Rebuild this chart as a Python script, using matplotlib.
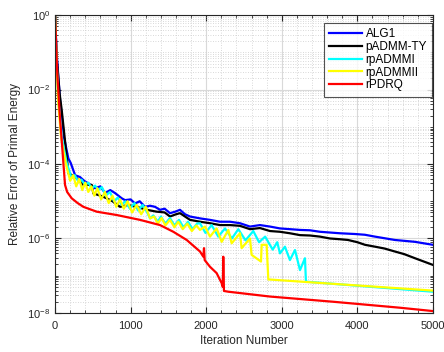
import matplotlib
matplotlib.use("Agg")
import matplotlib.pyplot as plt
import numpy as np
from matplotlib.ticker import FixedLocator, NullFormatter, MultipleLocator

plt.rcParams['font.family'] = ['Liberation Sans', 'DejaVu Sans']
plt.rcParams['mathtext.fontset'] = 'custom'
plt.rcParams['mathtext.rm'] = 'Liberation Sans'
plt.rcParams['mathtext.it'] = 'Liberation Sans:italic'
plt.rcParams['mathtext.bf'] = 'Liberation Sans:bold'

# iterations and log10 of relative error
alg1_it = [0, 20, 66, 120, 176, 207, 265, 330, 397, 441, 529, 600, 661, 730, 794, 882, 926, 1000, 1058, 1120, 1190,
           1257, 1323, 1389, 1450, 1521, 1590, 1653, 1720, 1786, 1918, 2050, 2183, 2315, 2447, 2579, 2712, 2844,
           2976, 3108, 3241, 3373, 3505, 3638, 3770, 3968, 4100, 4233, 4497, 4762, 5000]
alg1_lg = [0, -1.0, -2.28, -3.3, -3.85, -3.97, -4.3, -4.35, -4.47, -4.52, -4.65, -4.6, -4.78, -4.7, -4.78, -4.92, -4.97, -4.95, -5.06, -5.0, -5.15,
           -5.12, -5.15, -5.23, -5.2, -5.32, -5.28, -5.23, -5.35, -5.41, -5.46, -5.5, -5.55, -5.55, -5.59, -5.68, -5.64, -5.68,
           -5.73, -5.75, -5.77, -5.78, -5.82, -5.84, -5.86, -5.88, -5.9, -5.95, -6.04, -6.09, -6.17]

ty_it = [0, 20, 60, 88, 163, 176, 265, 331, 375, 485, 507, 600, 683, 760, 860, 960, 1080, 1213, 1345, 1450, 1521,
         1600, 1653, 1786, 1918, 2050, 2183, 2315, 2447, 2579, 2712, 2844, 2976, 3108, 3241, 3373, 3505, 3638, 3770,
         3876, 4000, 4101, 4233, 4360, 4497, 4620, 4762, 5000]
ty_lg = [0, -1.1, -2.1, -2.55, -3.97, -4.25, -4.34, -4.47, -4.56, -4.56, -4.79, -4.85, -4.92, -5.0, -5.15, -5.1, -5.15, -5.23, -5.28, -5.3, -5.41,
         -5.35, -5.32, -5.5, -5.55, -5.59, -5.64, -5.64, -5.66, -5.75, -5.72, -5.8, -5.82, -5.86, -5.91, -5.92, -5.95, -6.0, -6.02,
         -6.04, -6.1, -6.17, -6.22, -6.27, -6.35, -6.42, -6.53, -6.71]

cy_it = [0, 20, 44, 90, 154, 220, 260, 309, 350, 397, 440, 485, 530, 573, 620, 670, 727, 780, 830, 880, 930, 990,
         1050, 1100, 1160, 1220, 1257, 1300, 1360, 1400, 1460, 1520, 1580, 1640, 1700, 1760, 1820, 1880, 1918, 1990,
         2072, 2160, 2249, 2340, 2425, 2520, 2623, 2700, 2780, 2880, 2940, 2976, 3042, 3108, 3175, 3241, 3307, 3320, 5000]
cy_lg = [0, -1.2, -2.28, -3.3, -3.97, -4.38, -4.3, -4.47, -4.42, -4.56, -4.5, -4.65, -4.58, -4.7, -4.62, -4.85, -4.75, -5.0, -4.9, -5.1, -5.0, -5.2,
         -5.05, -5.25, -5.1, -5.3, -5.46, -5.38, -5.55, -5.41, -5.6, -5.45, -5.65, -5.5, -5.7, -5.55, -5.75, -5.6, -5.59, -5.85,
         -5.64, -5.95, -5.73, -6.0, -5.75, -6.05, -5.8, -6.1, -5.95, -6.3, -6.1, -6.4, -6.22, -6.58, -6.31, -6.85, -6.53, -7.16, -7.43]

ye_it = [0, 20, 40, 80, 140, 200, 240, 280, 320, 360, 400, 440, 480, 520, 560, 610, 660, 710, 760, 810, 860, 910,
         960, 1020, 1080, 1140, 1200, 1257, 1310, 1360, 1410, 1460, 1520, 1580, 1630, 1690, 1750, 1810, 1870, 1918, 1984,
         2050, 2138, 2205, 2293, 2337, 2447, 2469, 2579, 2601, 2725, 2734, 2800, 2822, 5000]
ye_lg = [0, -1.3, -2.3, -3.3, -3.97, -4.45, -4.3, -4.6, -4.4, -4.7, -4.5, -4.75, -4.6, -4.85, -4.65, -4.95, -4.75, -5.05, -4.85, -5.15, -4.95, -5.2,
         -5.0, -5.3, -5.1, -5.35, -5.15, -5.46, -5.41, -5.6, -5.45, -5.65, -5.5, -5.7, -5.55, -5.75, -5.6, -5.8, -5.65, -5.77, -5.68,
         -5.95, -5.73, -6.09, -5.77, -6.13, -5.86, -6.26, -6.0, -6.44, -6.62, -6.17, -6.17, -7.1, -7.40]

rd_it = [0, 15, 30, 60, 110, 132, 160, 220, 300, 375, 551, 816, 1124, 1389, 1565, 1742, 1918, 1962, 1971, 1980,
         2050, 2138, 2205, 2220, 2226, 2235, 2293, 2844, 3682, 4563, 5000]
rd_lg = [0, -0.8, -1.6, -2.6, -3.97, -4.56, -4.75, -4.92, -5.05, -5.15, -5.28, -5.37, -5.5, -5.64, -5.82, -6.04, -6.35, -6.49, -6.26, -6.58,
         -6.76, -6.93, -7.2, -7.3, -6.49, -7.41, -7.43, -7.56, -7.7, -7.86, -7.95]

series = [
    ("ALG1", alg1_it, alg1_lg, (0, 0, 1)),
    ("pADMM-TY", ty_it, ty_lg, (0, 0, 0)),
    ("rpADMMI", cy_it, cy_lg, (0, 1, 1)),
    ("rpADMMII", ye_it, ye_lg, (1, 1, 0)),
    ("rPDRQ", rd_it, rd_lg, (1, 0, 0)),
]

fig = plt.figure(figsize=(4.44, 3.52), dpi=100)
ax = fig.add_axes([0.124, 0.111, 0.851, 0.846])

for name, it, lg, col in series:
    ax.plot(it, 10.0 ** np.array(lg), color=col, lw=1.6, label=name)

ax.set_yscale('log')
ax.set_xlim(0, 5000)
ax.set_ylim(1e-8, 1)
ax.xaxis.set_major_locator(MultipleLocator(1000))
ax.xaxis.set_minor_locator(MultipleLocator(200))
ax.yaxis.set_major_locator(FixedLocator([1e-8, 1e-6, 1e-4, 1e-2, 1]))
minors = [m * 10.0 ** e for e in range(-8, 0) for m in range(1, 10) if not (m == 1 and e % 2 == 0)]
ax.yaxis.set_minor_locator(FixedLocator(minors))
ax.yaxis.set_minor_formatter(NullFormatter())
ax.set_yticklabels([r'$10^{-8}$', r'$10^{-6}$', r'$10^{-4}$', r'$10^{-2}$', r'$10^{0}$'])

gc = (0.15, 0.15, 0.15)
ax.grid(True, which='major', color=(0.85, 0.85, 0.85), lw=0.8)
ax.grid(True, which='minor', color=(0.8, 0.8, 0.8), lw=0.6, linestyle=(0, (1, 2)))
ax.set_axisbelow(True)
ax.tick_params(which='both', direction='in', top=True, right=True, colors=gc, labelsize=8, labelcolor=gc)
ax.tick_params(which='major', length=4)
ax.tick_params(which='minor', length=2)
ax.tick_params(axis='x', which='major', pad=5.5)
for s in ax.spines.values():
    s.set_color(gc)
    s.set_linewidth(0.8)

ax.set_xlabel('Iteration Number', fontsize=8.5, color=gc, labelpad=3)
ax.set_ylabel('Relative Error of Primal Energy', fontsize=8.5, color=gc)
ax.yaxis.set_label_coords(-0.09, 0.5)

leg = ax.legend(loc='upper right', bbox_to_anchor=(0.9987, 0.973), fontsize=8.5, frameon=True, fancybox=False,
                edgecolor=gc, borderpad=0.45, labelspacing=0.06, handlelength=2.8, handletextpad=0.3,
                borderaxespad=0.0)
leg.get_frame().set_linewidth(0.8)

fig.savefig('out.png', dpi=100)
